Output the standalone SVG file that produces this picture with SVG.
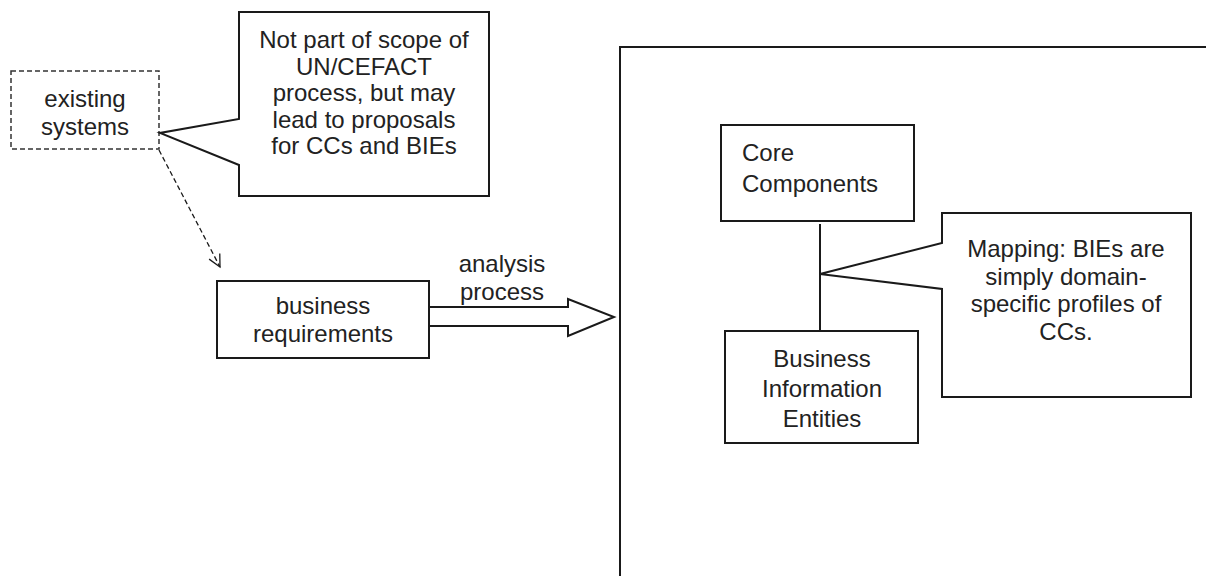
<svg xmlns="http://www.w3.org/2000/svg" width="1206" height="576" viewBox="0 0 1206 576">
  <defs>
    <style>
      .box { fill: #ffffff; stroke: #1a1a1a; stroke-width: 2; }
      .dashbox { fill: #ffffff; stroke: #333333; stroke-width: 1.5; stroke-dasharray: 5 3; }
      .line { fill: none; stroke: #1a1a1a; stroke-width: 2; }
      .dash { fill: none; stroke: #1a1a1a; stroke-width: 1.3; stroke-dasharray: 5 3; }
      .t { font-family: "Liberation Sans", Arial, sans-serif; font-size: 24px; fill: #222222; }
      .c { text-anchor: middle; }
    </style>
    <marker id="openArrow" markerWidth="16" markerHeight="16" refX="13" refY="7" orient="auto" markerUnits="userSpaceOnUse">
      <path d="M1,1 L13,7 L1,13" fill="none" stroke="#1a1a1a" stroke-width="1.3"/>
    </marker>
  </defs>
  <rect width="1206" height="576" fill="#ffffff"/>

  <!-- scope frame (continues beyond the right and bottom edges) -->
  <g id="frame">
    <path class="line" d="M1206,47 H620 V576"/>
  </g>

  <!-- connectors -->
  <g id="connectors">
    <path class="dash" d="M159,150 L220,267" marker-end="url(#openArrow)"/>
    <polygon class="line" points="429,307 568,307 568,299 614,317 568,336 568,326 429,326" fill="#ffffff"/>
    <line class="line" x1="820" y1="224" x2="820" y2="331"/>
  </g>

  <g id="existing-systems">
    <rect class="dashbox" x="11" y="71" width="148" height="78"/>
    <text class="t c" x="85" y="107">existing</text>
    <text class="t c" x="85" y="135">systems</text>
  </g>

  <g id="scope-note">
    <path class="box" d="M239,12 H489 V196 H239 V165 L160,133 L239,119 Z"/>
    <text class="t c" x="364" y="48">Not part of scope of</text>
    <text class="t c" x="364" y="74.6">UN/CEFACT</text>
    <text class="t c" x="364" y="101.2">process, but may</text>
    <text class="t c" x="364" y="127.8">lead to proposals</text>
    <text class="t c" x="364" y="154.4">for CCs and BIEs</text>
  </g>

  <g id="business-requirements">
    <rect class="box" x="217" y="281" width="212" height="77"/>
    <text class="t c" x="323" y="314">business</text>
    <text class="t c" x="323" y="342">requirements</text>
  </g>

  <g id="analysis-label">
    <text class="t c" x="502" y="272">analysis</text>
    <text class="t c" x="502" y="300">process</text>
  </g>

  <g id="core-components">
    <rect class="box" x="721" y="125" width="193" height="96"/>
    <text class="t" x="742" y="161">Core</text>
    <text class="t" x="742" y="192">Components</text>
  </g>

  <g id="business-information-entities">
    <rect class="box" x="725" y="331" width="193" height="112"/>
    <text class="t c" x="822" y="367">Business</text>
    <text class="t c" x="822" y="397">Information</text>
    <text class="t c" x="822" y="427">Entities</text>
  </g>

  <g id="mapping-note">
    <path class="box" d="M942,213 H1191 V397 H942 V289 L820,274 L942,243 Z"/>
    <text class="t c" x="1066" y="257">Mapping: BIEs are</text>
    <text class="t c" x="1066" y="284.5">simply domain-</text>
    <text class="t c" x="1066" y="312">specific profiles of</text>
    <text class="t c" x="1066" y="339.5">CCs.</text>
  </g>
</svg>
